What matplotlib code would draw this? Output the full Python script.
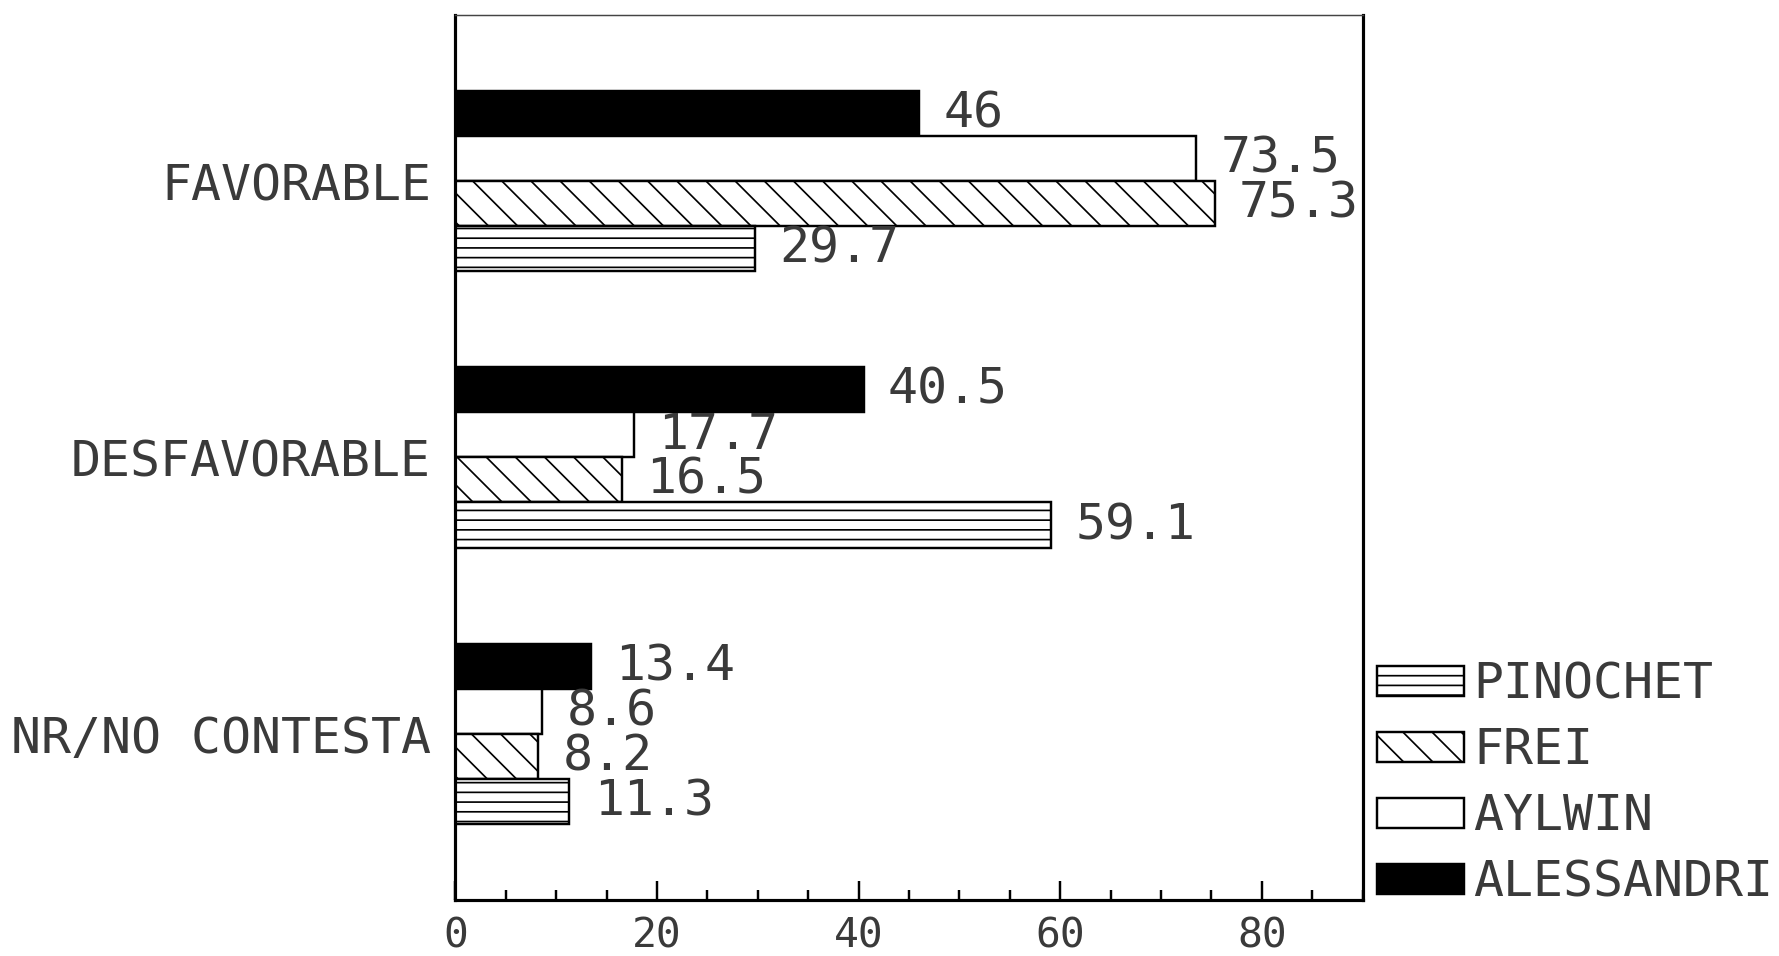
import numpy as np
import matplotlib.pyplot as plt
from matplotlib.ticker import MultipleLocator

#----------------------------------------------------------------------------------- #
# Data
#----------------------------------------------------------------------------------- #
categories = ['FAVORABLE', 'DESFAVORABLE', 'NR/NO CONTESTA']
alessandri = [46, 40.5, 13.4]
aylwin = [73.5, 17.7, 8.6]
frei = [75.3, 16.5, 8.2]
pinochet = [29.7, 59.1, 11.3]
value_labels = {'ALESSANDRI': ['46', '40.5', '13.4'],
                'AYLWIN': ['73.5', '17.7', '8.6'],
                'FREI': ['75.3', '16.5', '8.2'],
                'PINOCHET': ['29.7', '59.1', '11.3']}

DPI = 175
plt.rcParams['font.family'] = 'DejaVu Sans Mono'
plt.rcParams['hatch.linewidth'] = 0.7
txtcol = '#3a3a3a'
fs = 20.5

fig = plt.figure(figsize=(1779 / DPI, 956 / DPI), dpi=DPI)
ax = fig.add_axes([0.256, 0.059, 0.51, 0.925])

y = np.arange(len(categories))
h = 0.163
series = [('ALESSANDRI', alessandri, 'black', ''),
          ('AYLWIN', aylwin, 'white', ''),
          ('FREI', frei, 'white', '\\\\'),
          ('PINOCHET', pinochet, 'white', '---')]

handles = {}
for i, (name, vals, col, hatch) in enumerate(series):
    pos = y + (i - 1.5) * h
    b = ax.barh(pos, vals, height=h, color=col, edgecolor='black', linewidth=1.0, hatch=hatch, label=name)
    handles[name] = b
    for p, v, lab in zip(pos, vals, value_labels[name]):
        ax.annotate(lab, (v, p), xytext=(10, 0), textcoords='offset points', va='center', ha='left',
                    fontsize=fs, color=txtcol)

ax.set_xlim(0, 90)
ax.set_ylim(2.6, -0.6)
ax.set_yticks(y)
ax.set_yticklabels(categories, fontsize=fs, color=txtcol)
ax.tick_params(axis='y', length=0, pad=10)

ax.xaxis.set_major_locator(MultipleLocator(20))
ax.xaxis.set_minor_locator(MultipleLocator(5))
ax.tick_params(axis='x', which='major', direction='in', length=8, width=1.0, pad=7, labelsize=17, labelcolor=txtcol)
ax.tick_params(axis='x', which='minor', direction='in', length=4, width=1.0)

for s in ['left', 'bottom', 'right']:
    ax.spines[s].set_linewidth(1.3)
ax.spines['top'].set_linewidth(0.6)
ax.spines['top'].set_color('#444444')

order = ['PINOCHET', 'FREI', 'AYLWIN', 'ALESSANDRI']
leg = fig.legend([handles[n] for n in order], order, loc='lower left', bbox_to_anchor=(0.76, 0.026),
                 frameon=False, borderpad=0, fontsize=fs, handlelength=1.75, handleheight=0.55,
                 handletextpad=0.18, labelspacing=0.36)
for t in leg.get_texts():
    t.set_color(txtcol)

plt.savefig('out.png', dpi=DPI)
